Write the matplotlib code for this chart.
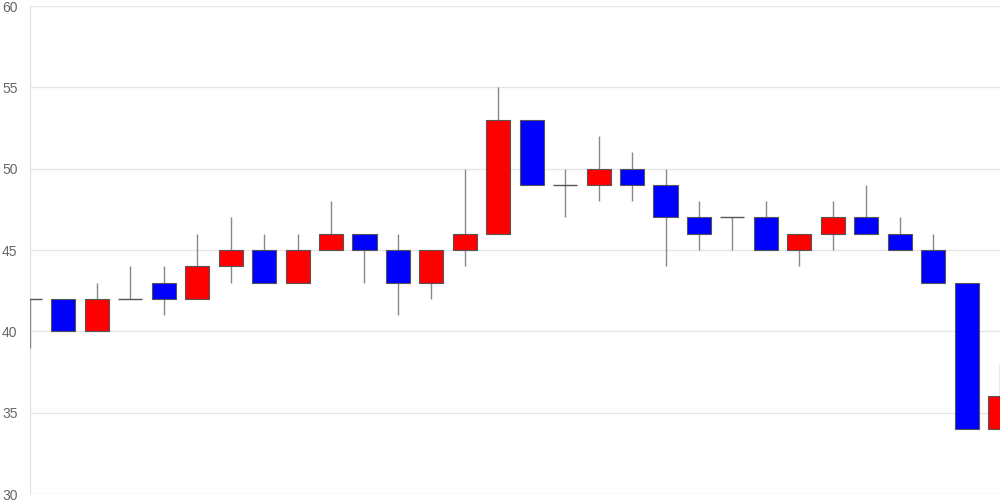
import matplotlib
matplotlib.use("Agg")
import matplotlib.pyplot as plt

plt.rcParams["font.family"] = ["Liberation Sans", "DejaVu Sans"]

# daily candles: open / high / low / close
opens  = [42, 42, 40, 42, 43, 42, 44, 45, 43, 45, 46, 45, 43, 45, 46,
          53, 49, 49, 50, 49, 47, 47, 47, 45, 46, 47, 46, 45, 43, 34]
highs  = [42, 42, 43, 44, 44, 46, 47, 46, 46, 48, 46, 46, 45, 50, 55,
          53, 50, 52, 51, 50, 48, 47, 48, 46, 48, 49, 47, 46, 43, 38]
lows   = [39, 40, 40, 42, 41, 42, 43, 43, 43, 45, 43, 41, 42, 44, 46,
          49, 47, 48, 48, 44, 45, 45, 45, 44, 45, 46, 45, 43, 34, 34]
closes = [42, 40, 42, 42, 42, 44, 45, 43, 45, 46, 45, 43, 45, 46, 53,
          49, 49, 50, 49, 47, 46, 47, 45, 46, 47, 46, 45, 43, 34, 36]
yticks = [30, 35, 40, 45, 50, 55, 60]

fig = plt.figure(figsize=(10, 5), dpi=100)
ax = fig.add_axes([0.03, 0.012, 0.97, 0.976])

x = list(range(len(opens)))
width = 0.72
for i in x:
    o, h, l, c = opens[i], highs[i], lows[i], closes[i]
    ax.vlines(i, l, h, color="#888888", linewidth=1, zorder=3)
    if o == c:
        ax.hlines(o, i - width / 2, i + width / 2, color="#555555", linewidth=1, zorder=4)
        continue
    color = "#ff0000" if c > o else "#0000ff"
    ax.bar(i, abs(c - o), bottom=min(o, c), width=width, color=color,
           edgecolor="#555555", linewidth=0.8, zorder=4)

ax.set_xlim(0, len(opens) - 1)
ax.set_ylim(30, 60)
ax.set_yticks(yticks)
ax.set_xticks([])
ax.grid(axis="y", color="#e6e6e6", linewidth=1, zorder=0)
ax.set_axisbelow(True)
for side in ["top", "right", "bottom"]:
    ax.spines[side].set_visible(False)
ax.spines["left"].set_color("#e0e0e0")
ax.tick_params(axis="y", length=0, pad=9, labelsize=10, labelcolor="#666666")

fig.savefig("out.png", dpi=100)
